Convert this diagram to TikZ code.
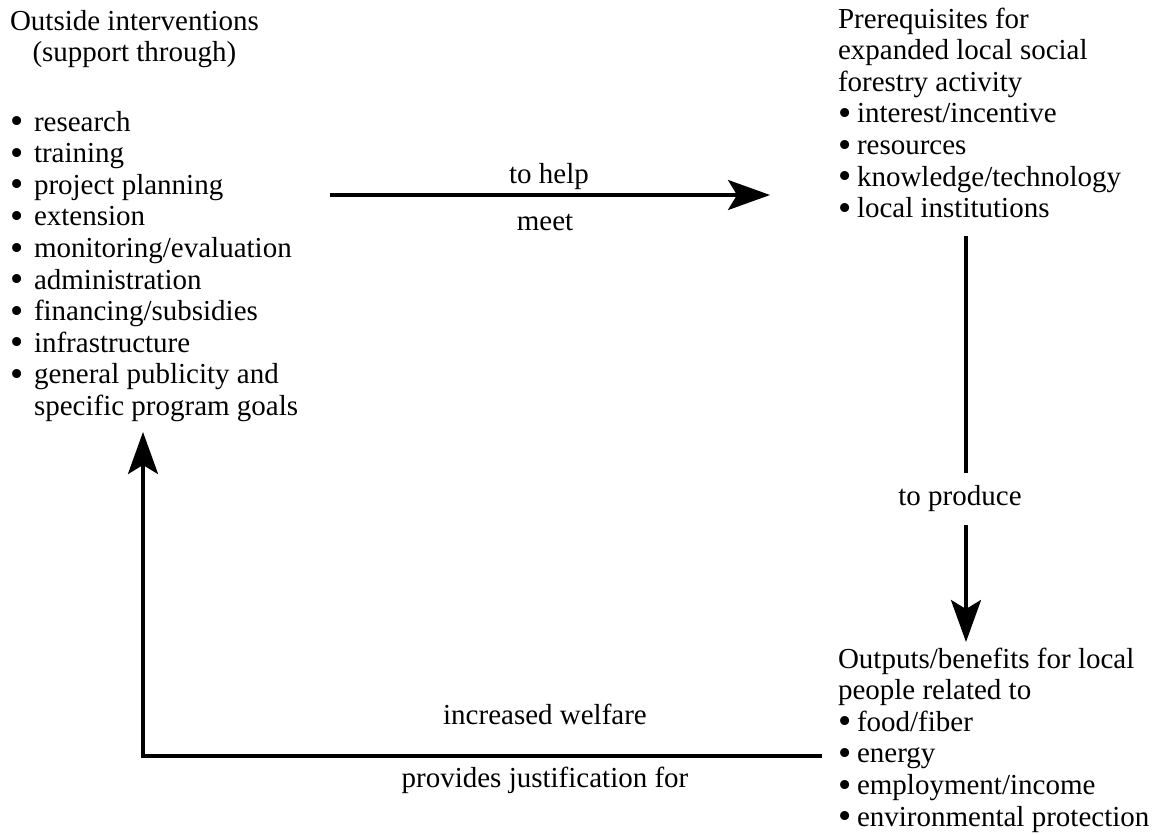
\documentclass[tikz,border=0pt]{standalone}
\usepackage{fontspec}
\setmainfont{Liberation Serif}
\usetikzlibrary{arrows.meta}
\newcommand{\dotb}{\raisebox{-2.6pt}{\scalebox{1.3}{\textbullet}}}
\newcommand{\bl}{\makebox[24pt][l]{\dotb}}
\newcommand{\br}{\makebox[19pt][l]{\dotb}}
\tikzset{
  txt/.style={inner sep=0pt, outer sep=0pt, font=\fontsize{29}{31.6}\selectfont, align=left, anchor=north west},
  lbl/.style={inner sep=0pt, outer sep=0pt, font=\fontsize{29}{31.6}\selectfont, anchor=base},
  conn/.style={line width=3.5pt},
  tip/.style={-{Stealth[length=42pt,width=30pt,inset=9pt]}}
}
\begin{document}
\begin{tikzpicture}[x=1pt,y=-1pt]
\useasboundingbox (0,0) rectangle (1167,835);
% blocks
\node[txt, align=center] (head) at (10,7.9) {\strut Outside interventions\\\strut (support through)};
\node[txt] (list) at (10,108.9) {\strut\bl research\\\strut\bl training\\\strut\bl project planning\\\strut\bl extension\\\strut\bl monitoring/evaluation\\\strut\bl administration\\\strut\bl financing/subsidies\\\strut\bl infrastructure\\\strut\bl general publicity and\\\strut\hspace*{24pt}specific program goals};
\node[txt] (prereq) at (838,5.9) {\strut Prerequisites for\\\strut expanded local social\\\strut forestry activity\\\strut\br interest/incentive\\\strut\br resources\\\strut\br knowledge/technology\\\strut\br local institutions};
\node[txt] (outputs) at (838,645.9) {\strut Outputs/benefits for local\\\strut people related to\\\strut\br food/fiber\\\strut\br energy\\\strut\br employment/income\\\strut\br environmental protection};
% connector points
\coordinate (hs) at (330,195);
\coordinate (he) at (770,195);
\coordinate (v0) at (966,236);
\coordinate (v1) at (966,473);
\coordinate (v2) at (966,525);
\coordinate (v3) at (966,642);
\coordinate (b0) at (822,756);
\coordinate (b1) at (143,756);
\coordinate (b2) at (143,432);
% labels
\node[lbl] (tohelp) at (549,183) {to help};
\node[lbl] (meet) at (545,230) {meet};
\node[lbl] (prod) at (960,505) {to produce};
\node[lbl] (welfare) at (545,724) {increased welfare};
\node[lbl] (justif) at (545,787) {provides justification for};
% connectors
\draw[conn,tip] (hs) -- (he);
\draw[conn] (v0) -- (v1);
\draw[conn,tip] (v2) -- (v3);
\draw[conn,tip] (b0) -- (b1) -- (b2);
\end{tikzpicture}
\end{document}
